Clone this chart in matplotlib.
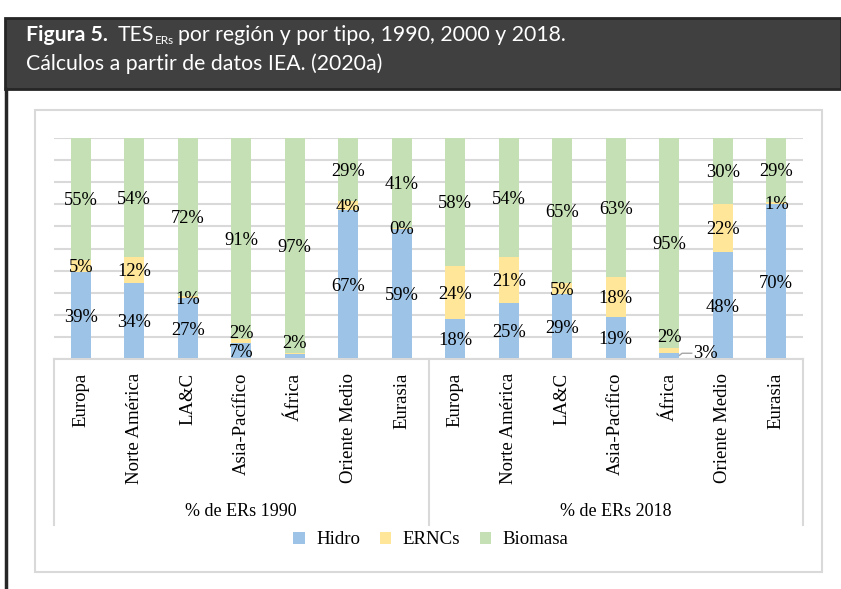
import matplotlib
matplotlib.use("Agg")
import matplotlib.pyplot as plt
from matplotlib.patches import Rectangle, Patch
from matplotlib.lines import Line2D
import matplotlib.transforms as mtransforms

# ---------------- data ----------------
regions = ["Europa", "Norte América", "LA&C", "Asia-Pacífico", "África", "Oriente Medio", "Eurasia"]
groups = ["% de ERs 1990", "% de ERs 2018"]
series_names = ["Hidro", "ERNCs", "Biomasa"]

hidro_1990 = [39.4, 34.3, 27.4, 7.2, 2.4, 67.2, 59.0]
ernc_1990 = [5.2, 11.9, 0.9, 1.9, 0.4, 4.1, 0.4]
bio_1990 = [55.4, 53.8, 71.7, 90.9, 97.2, 28.7, 40.6]

hidro_2018 = [18.3, 25.2, 29.3, 19.2, 2.7, 48.3, 70.2]
ernc_2018 = [23.8, 20.9, 5.3, 18.1, 2.4, 21.8, 0.9]
bio_2018 = [57.9, 53.9, 65.4, 62.7, 94.9, 29.9, 28.9]

# ---------------- style ----------------
W, H = 841, 589
colors = ["#9DC3E6", "#FFE699", "#C5E0B4"]
grid_c = "#D9D9D9"
serif = "Liberation Serif"
hdr_font = "Lato"
hdr_size = 15.3

def fx(x):
    return x / W

def fy(y):
    return 1 - y / H

fig = plt.figure(figsize=(W / 100, H / 100), dpi=100)
fig.patch.set_facecolor("white")

# header band
fig.patches.append(Rectangle((fx(5), fy(89)), fx(841) - fx(5), fy(18) - fy(89),
                             transform=fig.transFigure, facecolor="#404040",
                             edgecolor="#262626", linewidth=2, zorder=0))
# left black rule
fig.lines.append(Line2D([fx(6), fx(6)], [fy(89), fy(589)], transform=fig.transFigure,
                        color="#262626", linewidth=2.5))
# chart border
fig.patches.append(Rectangle((fx(35), fy(572)), fx(822) - fx(35), fy(110) - fy(572),
                             transform=fig.transFigure, facecolor="none",
                             edgecolor=grid_c, linewidth=1.5, zorder=0))

# header texts
renderer = fig.canvas.get_renderer()

def seq_text(x_px, y_px, pieces):
    x = x_px
    for txt, kw, dy, gap in pieces:
        t = fig.text(fx(x), fy(y_px + dy), txt, color="white", va="baseline",
                     ha="left", family=hdr_font, **kw)
        bb = t.get_window_extent(renderer)
        x = x + bb.width + gap

seq_text(26, 41, [
    ("Figura 5.", dict(fontsize=hdr_size, fontweight="bold"), 0, 10),
    ("TES", dict(fontsize=hdr_size), 0, 0.5),
    ("ERs", dict(fontsize=8.5), 3, 4),
    ("por región y por tipo, 1990, 2000 y 2018.", dict(fontsize=hdr_size), 0, 0),
])
fig.text(fx(26), fy(70), "Cálculos a partir de datos IEA. (2020a)", color="white",
         va="baseline", ha="left", family=hdr_font, fontsize=hdr_size)

# axes
ax = fig.add_axes([fx(54), fy(359), fx(803) - fx(54), fy(138) - fy(359)])
ax.set_xlim(-0.5, 13.5)
ax.set_ylim(0, 100)
for s in ax.spines.values():
    s.set_visible(False)
ax.set_xticks([])
ax.set_yticks(range(0, 101, 10))
ax.tick_params(axis="y", length=0, labelleft=False)
ax.yaxis.grid(True, color=grid_c, linewidth=1.5)
ax.set_axisbelow(True)

all_series = [hidro_1990 + hidro_2018, ernc_1990 + ernc_2018, bio_1990 + bio_2018]
n = len(regions)
xs = list(range(2 * n))
bw = 0.38
bottoms = [0.0] * (2 * n)

# label adjustments (series index, bar index) -> dy in % ; hidden labels
label_dy = {(1, 3): 4.0, (0, 4): 6.5, (1, 11): 6.5}
hidden = {(1, 4), (0, 11)}

for si, vals in enumerate(all_series):
    ax.bar(xs, vals, bw, bottom=bottoms, color=colors[si], zorder=2)
    for i, v in enumerate(vals):
        yc = bottoms[i] + v / 2
        if (si, i) not in hidden:
            ax.text(xs[i], yc - 0.8 + label_dy.get((si, i), 0), f"{round(v)}%",
                    ha="center", va="center", family=serif, fontsize=13.3, zorder=4)
    bottoms = [b + v for b, v in zip(bottoms, vals)]

# leader-line label for África 2018 Hidro
i = 11
v = all_series[0][i]
ax.plot([xs[i] + 0.19, xs[i] + 0.24, xs[i] + 0.42], [v / 2 + 0.3, 2.6, 2.6],
        color="#A6A6A6", linewidth=1, zorder=3, clip_on=False)
ax.text(xs[i] + 0.44, 2.6, f"{round(v)}%", ha="left", va="center",
        family=serif, fontsize=13.3, zorder=4)

# category axis
trans = mtransforms.blended_transform_factory(ax.transData, ax.transAxes)
ax.plot([-0.5, 13.5], [0, 0], transform=trans, color=grid_c, linewidth=1.5, clip_on=False)
for xv in [-0.5, 6.5, 13.5]:
    ax.plot([xv, xv], [0, -0.751], transform=trans, color=grid_c, linewidth=1.5, clip_on=False)
for gi, g in enumerate(groups):
    for ri, r in enumerate(regions):
        ax.text(gi * n + ri, -0.062, r, transform=trans, rotation=90, ha="center",
                va="top", family=serif, fontsize=13.5)
    ax.text(gi * n + (n - 1) / 2, -0.688, g, transform=trans, ha="center", va="center",
            family=serif, fontsize=13)

# legend
handles = [Patch(facecolor=c, edgecolor="none") for c in colors]
fig.legend(handles, series_names, loc="center", bbox_to_anchor=(fx(431), fy(540)),
           ncol=3, frameon=False, prop={"family": serif, "size": 13.6},
           handlelength=0.6, handleheight=0.6, handletextpad=0.6, columnspacing=1.05,
           borderaxespad=0)

fig.savefig("out.png", dpi=100)
